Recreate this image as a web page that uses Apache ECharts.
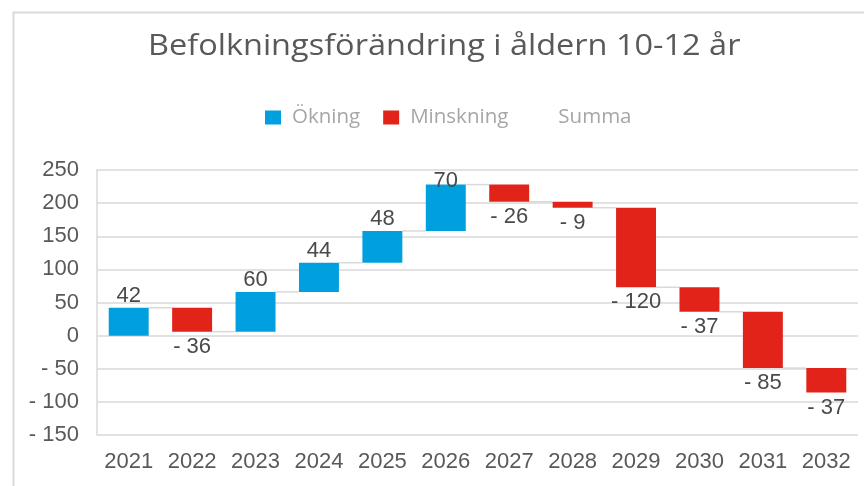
<!DOCTYPE html>
<html>
<head>
<meta charset="utf-8">
<script src="https://cdn.jsdelivr.net/npm/echarts@6/dist/echarts.min.js"></script>
<style>
html,body{margin:0;padding:0;background:#fff;}
#chart{width:864px;height:486px;}
</style>
</head>
<body>
<div id="chart"></div>
<script>
const categories = ['2021','2022','2023','2024','2025','2026','2027','2028','2029','2030','2031','2032'];
const changes = [42, -36, 60, 44, 48, 70, -26, -9, -120, -37, -85, -37];
const yMin = -150, yMax = 250, yStep = 50;
const legendNames = ['Ökning', 'Minskning', 'Summa'];
const titleText = 'Befolkningsförändring i åldern 10-12 år';

const BLUE = '#009FDD', RED = '#E2231A';
const GRID_TOP = 170;

// running totals derived from the changes
const ends = [];
let run = 0;
changes.forEach(v => { run += v; ends.push(run); });
const starts = ends.map((e, i) => e - changes[i]);
const base = changes.map((v, i) => v >= 0 ? starts[i] : ends[i]);
const incData = changes.map(v => v >= 0 ? v : 0);
const decData = changes.map(v => v < 0 ? -v : 0);
const connData = ends.slice(0, -1).map((e, i) => [i, e]);

const BAR_RATIO = 0.63;
const labelFont = {fontFamily: 'Liberation Sans, Arial, sans-serif', fontSize: 22, color: '#4a4a4a'};

const chart = echarts.init(document.getElementById('chart'));
chart.setOption({
  animation: false,
  backgroundColor: '#fff',
  graphic: [{
    type: 'rect', left: 11, top: 10, shape: {width: 900, height: 520},
    style: {fill: 'none', stroke: '#d9d9d9', lineWidth: 2}, silent: true
  }, {
    type: 'text', x: 148, y: 46, scaleX: 1.083, silent: true,
    style: {text: titleText, fontFamily: 'Open Sans, sans-serif', fontSize: 30, fill: '#595959',
            align: 'left', verticalAlign: 'middle'}
  }],
  legend: {
    data: legendNames, top: 107, left: 265, icon: 'rect', padding: 0,
    itemWidth: 16, itemHeight: 14, itemGap: 23,
    textStyle: {fontFamily: 'Open Sans, sans-serif', fontSize: 20.5, color: '#a6a6a6', padding: [0, 0, 0, 6]}
  },
  grid: {left: 97, right: 6, top: GRID_TOP, bottom: 51},
  xAxis: {
    type: 'category', data: categories,
    axisLine: {show: false, onZero: false}, axisTick: {show: false},
    axisLabel: {interval: 0, margin: 16, fontFamily: 'Liberation Sans, Arial, sans-serif', fontSize: 22, color: '#595959'}
  },
  yAxis: {
    type: 'value', min: yMin, max: yMax, interval: yStep,
    axisLine: {show: true, lineStyle: {color: '#d9d9d9', width: 1.5}},
    axisTick: {show: false},
    splitLine: {lineStyle: {color: '#d9d9d9', width: 1.5}},
    axisLabel: {margin: 18, fontFamily: 'Liberation Sans, Arial, sans-serif', fontSize: 22, color: '#595959',
      formatter: v => v < 0 ? '- ' + (-v) : String(v)}
  },
  series: [
    {name: 'base', type: 'bar', stack: 'w', stackStrategy: 'all', data: base,
     barCategoryGap: '37%', itemStyle: {color: 'transparent'}, silent: true, z: 2},
    {name: 'Ökning', type: 'bar', stack: 'w', stackStrategy: 'all', data: incData,
     itemStyle: {color: BLUE}, z: 3,
     labelLayout: p => (p.labelRect.y < GRID_TOP ? {dy: GRID_TOP - p.labelRect.y} : {}),
     label: Object.assign({show: true, position: 'top', distance: 1,
       formatter: p => p.value > 0 ? String(p.value) : ''}, labelFont)},
    {name: 'Minskning', type: 'bar', stack: 'w', stackStrategy: 'all', data: decData,
     itemStyle: {color: RED}, z: 3,
     label: Object.assign({show: true, position: 'bottom', distance: 4,
       formatter: p => p.value > 0 ? '- ' + p.value : ''}, labelFont)},
    {name: 'Summa', type: 'bar', stack: 'w', stackStrategy: 'all', data: [], itemStyle: {color: 'transparent'}},
    {name: 'conn', type: 'custom', data: connData, encode: {x: 0, y: 1}, z: 1, silent: true,
     renderItem: (params, api) => {
       const i = api.value(0), y = api.value(1);
       const p1 = api.coord([i, y]), p2 = api.coord([i + 1, y]);
       const half = api.size([1, 0])[0] * BAR_RATIO / 2;
       return {type: 'line', shape: {x1: p1[0] + half, y1: p1[1], x2: p2[0] - half, y2: p2[1]},
               style: {stroke: '#d9d9d9', lineWidth: 1.5}};
     }}
  ]
});
</script>
</body>
</html>
